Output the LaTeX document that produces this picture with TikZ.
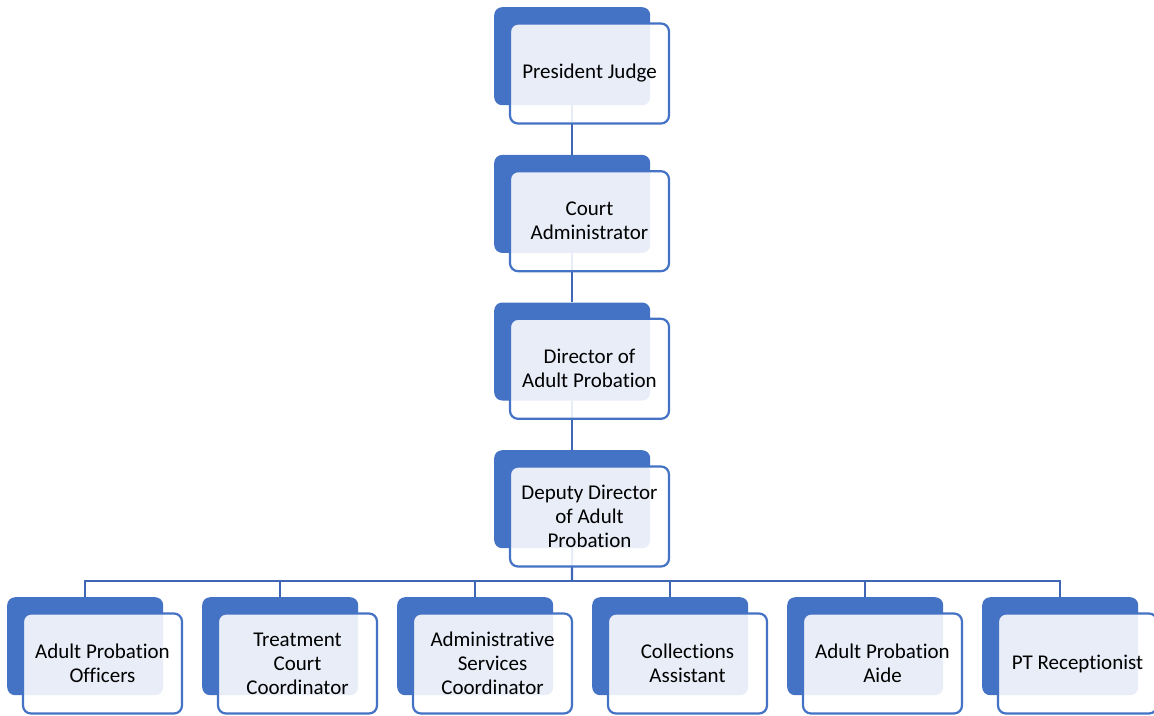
\documentclass[tikz,border=0pt]{standalone}
\usepackage{fontspec}
\setmainfont{Carlito}[Ligatures=NoCommon]
\usetikzlibrary{backgrounds}
\definecolor{accent}{HTML}{4472C4}
\definecolor{linkblue}{HTML}{3F66B5}
\tikzset{
  backcard/.style={draw=none, fill=accent, rounded corners=8pt,
    minimum width=156pt, minimum height=98pt, inner sep=0pt, anchor=north west},
  frontcard/.style={draw=accent, line width=2.2pt, fill=white, fill opacity=0.88,
    text opacity=1, rounded corners=8pt, minimum width=159pt, minimum height=100pt,
    inner sep=2pt, align=center, text=black,
    font=\fontsize{21pt}{24pt}\selectfont},
  link/.style={draw=linkblue, line width=2.2pt}
}
% back card + translucent front card carrying the label
\newcommand{\orgcard}[4]{%
  \node[backcard] (#1b) at (#2,#3) {};
  \node[frontcard] (#1) at (#2+95.5,#3+66.5) {#4};
}
\begin{document}
\begin{tikzpicture}[x=1pt,y=-1pt]
\useasboundingbox (0,0) rectangle (1154,715);
\orgcard{pj}{494}{7}{President Judge}
\orgcard{ca}{494}{154.7}{Court\\Administrator}
\orgcard{dap}{494}{302.3}{Director of\\Adult Probation}
\orgcard{ddap}{494}{450}{Deputy Director\\of Adult\\Probation}
\orgcard{apo}{7}{597}{Adult Probation\\Officers}
\orgcard{tcc}{202}{597}{Treatment\\Court\\Coordinator}
\orgcard{asc}{397}{597}{Administrative\\Services\\Coordinator}
\orgcard{col}{592}{597}{Collections\\Assistant}
\orgcard{apa}{787}{597}{Adult Probation\\Aide}
\orgcard{ptr}{982}{597}{PT Receptionist}
\coordinate (bus) at (572,581);
\begin{pgfonlayer}{background}
  \draw[link] (pjb.south) -- (cab.north);
  \draw[link] (cab.south) -- (dapb.north);
  \draw[link] (dapb.south) -- (ddapb.north);
  \draw[link] (ddapb.south) -- (bus);
  \foreach \c in {apob,tccb,ascb,colb,apab,ptrb}
    \draw[link] (bus) -| (\c.north);
\end{pgfonlayer}
\end{tikzpicture}
\end{document}
